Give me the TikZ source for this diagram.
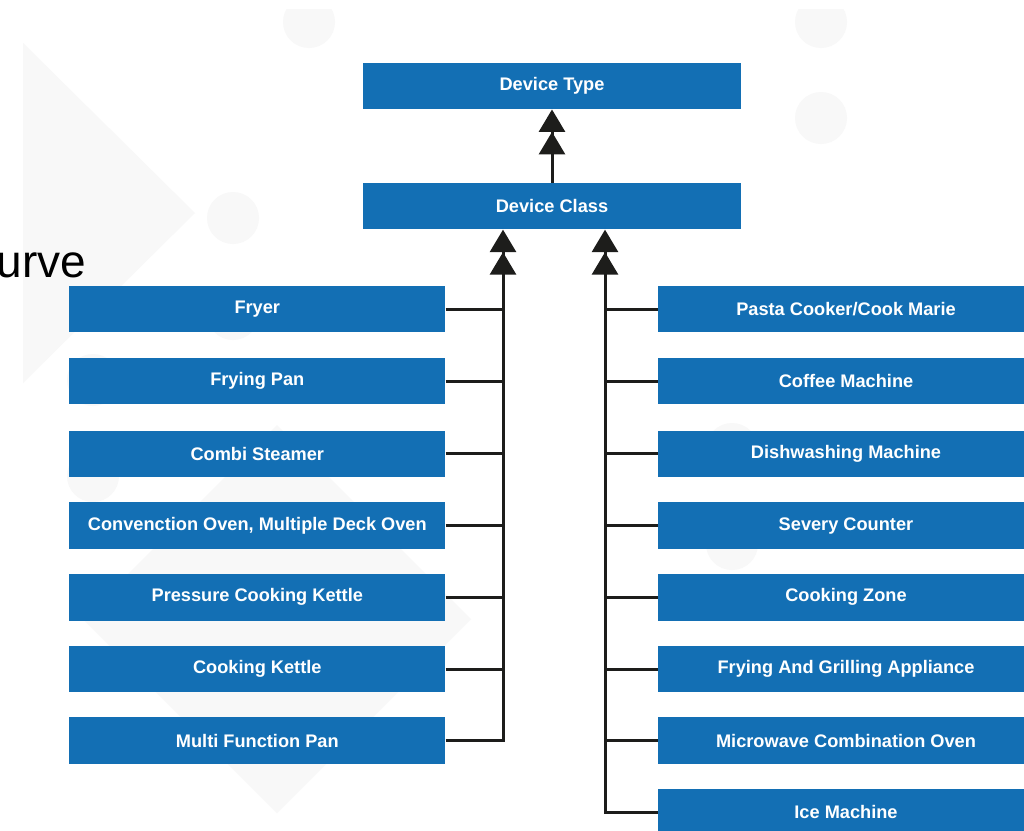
\documentclass[tikz,border=0pt]{standalone}
\usepackage{fontspec}
\setmainfont{Liberation Sans}
\usetikzlibrary{arrows.meta,calc}
\definecolor{boxblue}{RGB}{19,111,180}
\definecolor{wm}{RGB}{248,248,248}
\definecolor{ink}{RGB}{29,29,27}
\begin{document}
\begin{tikzpicture}[x=1pt,y=-1pt,
  cls/.style={fill=boxblue, text=white,
    font=\bfseries\fontsize{18.2}{20}\selectfont,
    minimum width=376pt, minimum height=46.5pt, inner sep=0pt, anchor=center},
  toplevel/.style={cls, minimum width=378pt},
  link/.style={draw=ink, line width=3pt},
  up/.style={link, -{Triangle[width=26pt,length=22.5pt]Triangle[width=26pt,length=22.5pt]}},
  wmark/.style={fill=wm, draw=none}]

% page area
\clip (0,0) rectangle (1024,830);
\fill[white] (0,0) rectangle (1024,830);

% faint watermark shapes behind the hierarchy
\begin{scope}
  \clip (0,9) rectangle (1024,830);
  \fill[wmark] (23,43) -- (195,213) -- (23,383) -- cycle;
  \fill[wmark] (277,425) -- (471,619) -- (277,813) -- (83,619) -- cycle;
  \foreach \cx/\cy in {309/22, 233/218, 233/314, 93/380, 93/476,
                       821/22, 821/118, 732/449, 732/544}
    \fill[wmark] (\cx,\cy) circle[radius=26pt];
\end{scope}

% heading fragment at the left edge
\node[font=\fontsize{46}{50}\selectfont, anchor=base west, inner sep=0pt] (heading) at (-3.5,277) {urve};

% top levels
\node[toplevel] (dt) at (552,86) {Device Type};
\node[toplevel] (dc) at (552,206.2) {Device Class};

% left column of device classes
\node[cls] (l1) at (257.3,309.0) {Fryer};
\node[cls] (l2) at (257.3,381.2) {Frying Pan};
\node[cls] (l3) at (257.3,453.8) {Combi Steamer};
\node[cls] (l4) at (257.3,525.7) {Convenction Oven, Multiple Deck Oven};
\node[cls] (l5) at (257.3,597.3) {Pressure Cooking Kettle};
\node[cls] (l6) at (257.3,669.0) {Cooking Kettle};
\node[cls] (l7) at (257.3,740.7) {Multi Function Pan};

% right column of device classes
\node[cls] (r1) at (846,309.0) {Pasta Cooker/Cook Marie};
\node[cls] (r2) at (846,381.2) {Coffee Machine};
\node[cls] (r3) at (846,453.8) {Dishwashing Machine};
\node[cls] (r4) at (846,525.7) {Severy Counter};
\node[cls] (r5) at (846,597.3) {Cooking Zone};
\node[cls] (r6) at (846,669.0) {Frying And Grilling Appliance};
\node[cls] (r7) at (846,740.7) {Microwave Combination Oven};
\node[cls] (r8) at (846,812.3) {Ice Machine};

% inheritance connectors
\draw[up] (dc.north) -- (dt.south);
\coordinate (lin) at ([xshift=-49pt]dc.south);
\coordinate (rin) at ([xshift=53pt]dc.south);
\draw[up] (l7.east) -| (lin);
\draw[up] (r8.west) -| (rin);
\foreach \i in {1,...,6}
  \draw[link] (l\i.east) -- (l\i.east -| lin);
\foreach \i in {1,...,7}
  \draw[link] (r\i.west) -- (r\i.west -| rin);
\end{tikzpicture}
\end{document}
